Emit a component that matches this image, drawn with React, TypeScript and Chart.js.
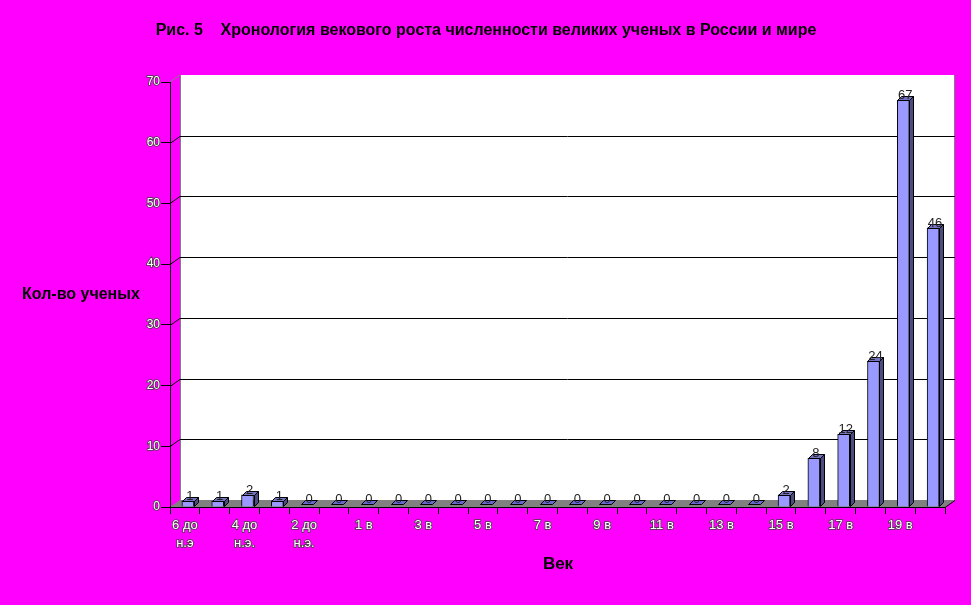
import React, { useEffect, useRef } from 'react';
import { Chart, registerables } from 'chart.js';

Chart.register(...registerables);

const titleText = 'Рис. 5    Хронология векового роста численности великих ученых в России и мире';
const yTitle = 'Кол-во ученых';
const xTitle = 'Век';

const categories: (string | string[])[] = [
  ['6 до', 'н.э'], ['5 до', 'н.э.'], ['4 до', 'н.э.'], ['3 до', 'н.э.'], ['2 до', 'н.э.'], ['1 до', 'н.э.'],
  '1 в', '2 в', '3 в', '4 в', '5 в', '6 в', '7 в', '8 в', '9 в', '10 в',
  '11 в', '12 в', '13 в', '14 в', '15 в', '16 в', '17 в', '18 в', '19 в', '20 в',
];

const values = [
  1, 1, 2, 1, 0, 0,
  0, 0, 0, 0, 0, 0, 0, 0, 0, 0,
  0, 0, 0, 0, 2, 8, 12, 24, 67, 46,
];

const yMin = 0;
const yMax = 70;
const yStep = 10;

const FONT = '"Liberation Sans", Arial, sans-serif';
const WDX = 10, WDY = 7; // wall depth
const BDX = 4, BDY = 4; // bar depth
const BAR_SHIFT = 3; // bars sit slightly into the depth

const wallPlugin = {
  id: 'wall3d',
  afterDatasetsUpdate(chart: any) {
    const meta = chart.getDatasetMeta(0);
    meta.data.forEach((el: any) => { el.x += BAR_SHIFT; });
  },
  beforeDraw(chart: any) {
    const { ctx, chartArea } = chart;
    const { left, right, top, bottom } = chartArea;
    const y = chart.scales.y;
    ctx.save();
    ctx.fillStyle = '#FF00FF';
    ctx.fillRect(0, 0, chart.width, chart.height);
    ctx.fillStyle = '#FFFFFF';
    ctx.fillRect(left + WDX, top - WDY, right - left, bottom - top);
    ctx.fillStyle = '#808080';
    ctx.beginPath();
    ctx.moveTo(left, bottom);
    ctx.lineTo(left + WDX, bottom - WDY);
    ctx.lineTo(right + WDX, bottom - WDY);
    ctx.lineTo(right, bottom);
    ctx.closePath();
    ctx.fill();
    ctx.strokeStyle = '#808080';
    ctx.lineWidth = 1;
    ctx.beginPath();
    ctx.moveTo(left + WDX + 0.5, top - WDY);
    ctx.lineTo(left + WDX + 0.5, bottom - WDY);
    ctx.moveTo(right + WDX - 0.5, top - WDY);
    ctx.lineTo(right + WDX - 0.5, bottom - WDY);
    ctx.moveTo(left, top);
    ctx.lineTo(left + WDX, top - WDY);
    ctx.stroke();
    ctx.strokeStyle = '#000000';
    ctx.beginPath();
    for (let v = yMin + yStep; v < yMax; v += yStep) {
      const py = Math.round(y.getPixelForValue(v)) + 0.5;
      ctx.moveTo(left, py);
      ctx.lineTo(left + WDX, py - WDY);
      ctx.lineTo(right + WDX, py - WDY);
    }
    ctx.stroke();
    ctx.restore();
  },
  afterDatasetsDraw(chart: any) {
    const { ctx, chartArea } = chart;
    const meta = chart.getDatasetMeta(0);
    ctx.save();
    ctx.lineWidth = 1;
    ctx.strokeStyle = '#000000';
    meta.data.forEach((bar: any, i: number) => {
      const p = bar.getProps(['x', 'y', 'base', 'width'], true);
      const l = Math.round(p.x - p.width / 2) + 0.5;
      const r = Math.round(p.x + p.width / 2) + 0.5;
      const t = Math.round(p.y) + 0.5;
      const b = Math.round(p.base) - 0.5;
      if (b - t > 0.5) {
        ctx.fillStyle = '#4C4C80';
        ctx.beginPath();
        ctx.moveTo(r, t);
        ctx.lineTo(r + BDX, t - BDY);
        ctx.lineTo(r + BDX, b - BDY);
        ctx.lineTo(r, b);
        ctx.closePath();
        ctx.fill();
        ctx.stroke();
      }
      const tt = b - t > 0.5 ? t : b - 2;
      ctx.fillStyle = b - t > 0.5 ? '#7373C0' : '#6666CC';
      ctx.beginPath();
      ctx.moveTo(l, tt);
      ctx.lineTo(l + BDX, tt - BDY);
      ctx.lineTo(r + BDX, tt - BDY);
      ctx.lineTo(r, tt);
      ctx.closePath();
      ctx.fill();
      ctx.stroke();
      ctx.fillStyle = '#222222';
      ctx.font = `13px ${FONT}`;
      ctx.textAlign = 'center';
      ctx.textBaseline = 'alphabetic';
      ctx.fillText(String(values[i]), p.x + BDX / 2, tt - BDY + 2);
    });
    ctx.beginPath();
    ctx.moveTo(chartArea.right, chartArea.bottom + 0.5);
    ctx.lineTo(chartArea.right + WDX, chartArea.bottom - WDY + 0.5);
    ctx.stroke();
    ctx.restore();
  },
  afterDraw(chart: any) {
    const { ctx } = chart;
    ctx.save();
    ctx.fillStyle = '#000000';
    ctx.textBaseline = 'middle';
    ctx.textAlign = 'center';
    ctx.font = `bold 16px ${FONT}`;
    ctx.fillText(titleText, 486, 31);
    ctx.textAlign = 'left';
    ctx.font = `bold 16px ${FONT}`;
    ctx.fillText(yTitle, 22, 295);
    ctx.textAlign = 'center';
    ctx.font = `bold 17px ${FONT}`;
    ctx.fillText(xTitle, 558, 564);
    ctx.restore();
  },
};

export default function App() {
  const ref = useRef<HTMLCanvasElement | null>(null);
  useEffect(() => {
    if (!ref.current) return;
    const chart = new Chart(ref.current, {
      type: 'bar',
      data: {
        labels: categories,
        datasets: [
          {
            data: values,
            backgroundColor: '#9999FF',
            borderColor: '#000000',
            borderWidth: 1,
            barThickness: 12,
          },
        ],
      },
      options: {
        responsive: false,
        animation: false,
        devicePixelRatio: 1,
        layout: { padding: { top: 82, right: 26, left: 0, bottom: 0 } },
        plugins: {
          legend: { display: false },
          title: { display: false },
          tooltip: { enabled: false },
        },
        scales: {
          x: {
            type: 'category',
            offset: true,
            afterFit: (s: any) => { s.height = 98; },
            grid: {
              display: true,
              offset: true,
              drawOnChartArea: false,
              drawTicks: true,
              tickLength: 7,
              color: '#000000',
            },
            border: { display: true, color: '#000000', width: 1 },
            ticks: {
              autoSkip: false,
              maxRotation: 0,
              minRotation: 0,
              padding: 3,
              color: '#FFFFFF',
              textStrokeColor: '#404040',
              textStrokeWidth: 1.5,
              font: { family: FONT, size: 13, lineHeight: 1.35 },
              callback: function (this: any, val: any, idx: number) {
                return idx % 2 === 0 ? this.getLabelForValue(val) : '';
              },
            },
          },
          y: {
            min: yMin,
            max: yMax,
            afterFit: (s: any) => { s.width = 170; },
            grid: {
              display: true,
              drawOnChartArea: false,
              drawTicks: true,
              tickLength: 9,
              color: '#000000',
            },
            border: { display: true, color: '#000000', width: 1 },
            ticks: {
              stepSize: yStep,
              padding: 1,
              color: '#FFFFFF',
              textStrokeColor: '#404040',
              textStrokeWidth: 1.5,
              font: { family: FONT, size: 12 },
            },
          },
        },
      },
      plugins: [wallPlugin],
    });
    return () => chart.destroy();
  }, []);
  return (
    <div style={{ position: 'absolute', left: 0, top: 0, width: 971, height: 605, background: '#FF00FF' }}>
      <canvas ref={ref} width={971} height={605} />
    </div>
  );
}
